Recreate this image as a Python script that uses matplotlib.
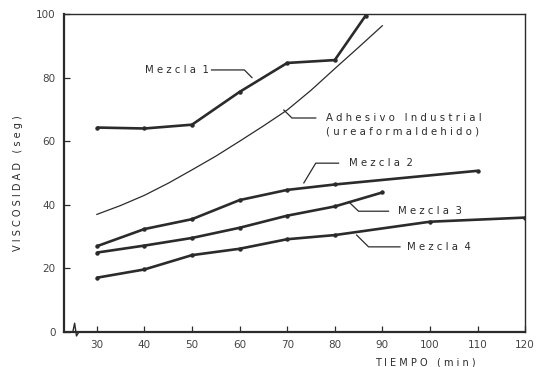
import matplotlib
matplotlib.use("Agg")
import matplotlib.pyplot as plt

# time (min) and viscosity (seg)
t_m1 = [30, 40, 50, 60, 70, 80, 86.5]
v_m1 = [64.3, 64.0, 65.2, 75.5, 84.6, 85.5, 99.5]

t_adh = [30, 35, 40, 45, 50, 55, 60, 65, 70, 75, 80, 85, 90]
v_adh = [37.0, 39.8, 43.0, 46.8, 51.0, 55.3, 60.0, 64.8, 69.8, 76.0, 82.8, 89.5, 96.3]

t_m2 = [30, 40, 50, 60, 70, 80, 110]
v_m2 = [27.0, 32.4, 35.5, 41.5, 44.7, 46.4, 50.7]

t_m3 = [30, 40, 50, 60, 70, 80, 90]
v_m3 = [25.0, 27.2, 29.6, 32.8, 36.6, 39.5, 43.9]

t_m4 = [30, 40, 50, 60, 70, 80, 100, 120]
v_m4 = [17.1, 19.7, 24.2, 26.2, 29.2, 30.5, 34.7, 36.0]

xticks = [30, 40, 50, 60, 70, 80, 90, 100, 110, 120]
yticks = [0, 20, 40, 60, 80, 100]

ink = "#2b2b2b"
plt.rcParams['font.family'] = ['DejaVu Sans']

fig = plt.figure(figsize=(5.38, 3.67), dpi=100)
ax = fig.add_axes([0.119, 0.095, 0.857, 0.867])

for t, v in [(t_m1, v_m1), (t_m2, v_m2), (t_m3, v_m3), (t_m4, v_m4)]:
    ax.plot(t, v, color=ink, lw=1.9, marker='o', ms=2.2, solid_capstyle='butt')
ax.plot(t_adh, v_adh, color=ink, lw=0.9)

ax.set_xlim(23.1, 120)
ax.set_ylim(0, 100)
ax.set_xticks(xticks)
ax.set_yticks(yticks)
ax.tick_params(direction='in', length=4, width=0.9, labelsize=7.5, colors=ink, pad=6)
ax.tick_params(labelcolor="#444444")
for s in ax.spines.values():
    s.set_color(ink)
    s.set_linewidth(1.0)
ax.spines['left'].set_linewidth(1.6)
ax.spines['bottom'].set_linewidth(1.6)

# labels with leader lines
lbl = dict(fontsize=7.3, color=ink, va='center')
lead = dict(color=ink, lw=0.9)

ax.text(53.5, 82.4, "M e z c l a  1", ha='right', **lbl)
ax.plot([54.1, 61.0, 62.6], [82.4, 82.4, 80.0], **lead)

ax.text(78.1, 67.3, "A d h e s i v o   I n d u s t r i a l", ha='left', **lbl)
ax.text(78.1, 62.9, "( u r e a f o r m a l d e h i d o )", ha='left', **lbl)
ax.plot([76.0, 71.0, 69.3], [67.3, 67.3, 69.8], **lead)

ax.text(82.9, 53.1, "M e z c l a  2", ha='left', **lbl)
ax.plot([80.8, 76.0, 73.5], [53.1, 53.1, 46.9], **lead)

ax.text(93.2, 38.0, "M e z c l a  3", ha='left', **lbl)
ax.plot([91.3, 85.0, 82.9], [38.0, 38.0, 41.0], **lead)

ax.text(95.1, 26.8, "M e z c l a  4", ha='left', **lbl)
ax.plot([93.7, 87.1, 84.6], [26.8, 26.8, 30.5], **lead)

# axis break mark near the origin
ax.plot([0.014, 0.019, 0.023, 0.027, 0.032],
        [0.0, 0.0, 0.028, -0.012, 0.0],
        transform=ax.transAxes, color=ink, lw=1.0, clip_on=False)

fig.text(0.033, 0.50, "V I S C O S I D A D   ( s e g )", rotation=90,
         ha='center', va='center', fontsize=7, color=ink)
fig.text(0.79, 0.013, "T I E M P O   ( m i n )", ha='center', va='center',
         fontsize=7, color=ink)

fig.savefig("out.png", dpi=100)
